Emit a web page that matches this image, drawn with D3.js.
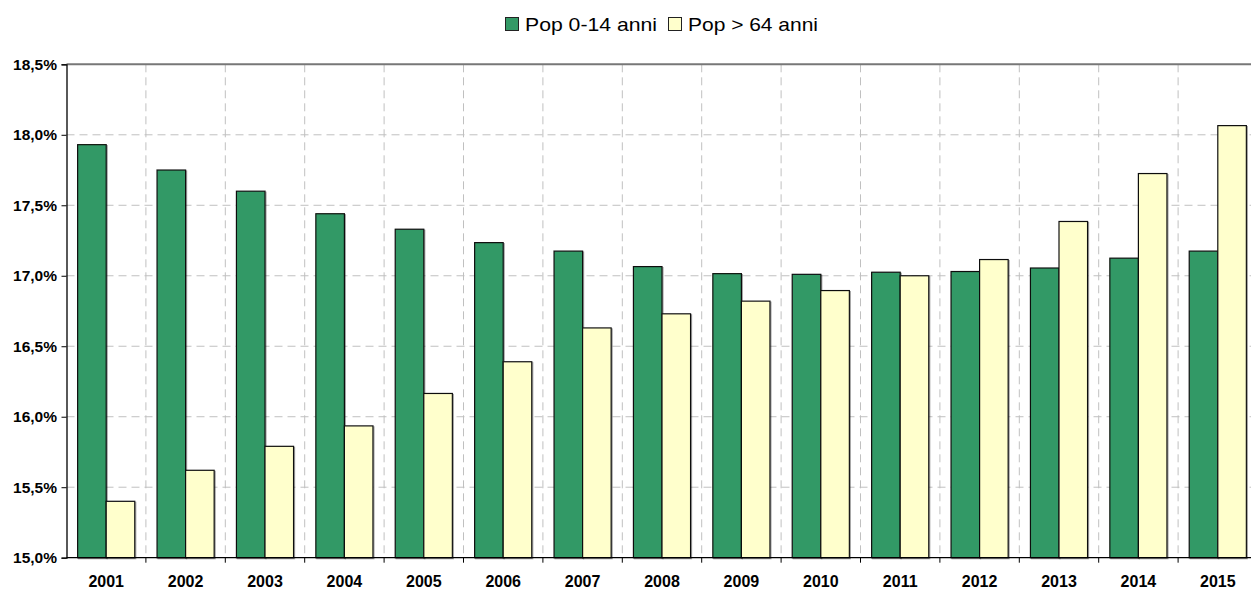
<!DOCTYPE html>
<html>
  <head>
    <meta charset="utf-8">
    <script src="https://d3js.org/d3.v7.min.js"></script>
    <style>
      body { margin: 0; background: #fff; }
      svg { display: block; font-family: Arial, "Liberation Sans", sans-serif; }
      .grid line { stroke: #c0c0c0; stroke-dasharray: 8,5; }
      .tick text { font-family: Arial, "Liberation Sans", sans-serif; font-weight: bold; font-size: 15.5px; fill: #000; }
    </style>
  </head>
<body>
<script>
  // dati
  var anni = ["2001","2002","2003","2004","2005","2006","2007","2008","2009","2010","2011","2012","2013","2014","2015"];
  var pop0_14 = [17.93,17.75,17.60,17.44,17.33,17.235,17.175,17.065,17.015,17.01,17.025,17.03,17.055,17.125,17.175];
  var pop64 = [15.40,15.62,15.79,15.935,16.165,16.39,16.63,16.73,16.82,16.895,17.0,17.115,17.385,17.725,18.065];
  var serie = ["Pop 0-14 anni", "Pop > 64 anni"];
  var colori = ["#339966", "#ffffcc"];
  var yTicks = [15.0,15.5,16.0,16.5,17.0,17.5,18.0,18.5];

  var width = 1251, height = 589;
  var margin = {left: 66.5, top: 64.3, right: -6.5, bottom: 31.3};
  var w = width - margin.left - margin.right,
      h = height - margin.top - margin.bottom;

  var svg = d3.select("body").append("svg")
      .attr("width", width)
      .attr("height", height);

  var defs = svg.append("defs");
  var f = defs.append("filter").attr("id", "ombra")
      .attr("x", "-20%").attr("y", "-20%").attr("width", "150%").attr("height", "150%");
  f.append("feDropShadow").attr("dx", 1).attr("dy", 1).attr("stdDeviation", 0.6)
      .attr("flood-color", "#000").attr("flood-opacity", 0.35);

  var g = svg.append("g").attr("transform", "translate(" + margin.left + "," + margin.top + ")");

  var x0 = d3.scaleBand().domain(anni).range([0, w]);
  var x1 = d3.scaleBand().domain(serie).range([0, x0.bandwidth()]).paddingOuter(0.39);
  var y = d3.scaleLinear().domain([15, 18.5]).range([h, 0]);

  var fmt = function(d) { return d3.format(".1f")(d).replace(".", ",") + "%"; };

  // griglia orizzontale
  g.append("g").attr("class", "grid")
    .selectAll("line").data(yTicks.slice(1, -1)).enter().append("line")
      .attr("x1", 0).attr("x2", w)
      .attr("y1", function(d) { return y(d); }).attr("y2", function(d) { return y(d); });

  // griglia verticale (bordi categorie)
  g.append("g").attr("class", "grid")
    .selectAll("line").data(anni.slice(1)).enter().append("line")
      .attr("x1", function(d) { return x0(d); }).attr("x2", function(d) { return x0(d); })
      .attr("y1", 0).attr("y2", h);

  // linea superiore
  g.append("line").attr("x1", 0).attr("x2", w).attr("y1", 0).attr("y2", 0)
    .attr("stroke", "#777").attr("stroke-width", 2);

  // barre
  var dati = anni.map(function(a, i) {
    return {anno: a, valori: [{s: serie[0], v: pop0_14[i]}, {s: serie[1], v: pop64[i]}]};
  });

  var gruppi = g.selectAll(".gruppo").data(dati).enter().append("g")
      .attr("class", "gruppo")
      .attr("transform", function(d) { return "translate(" + x0(d.anno) + ",0)"; });

  gruppi.selectAll("rect").data(function(d) { return d.valori; }).enter().append("rect")
      .attr("x", function(d) { return x1(d.s); })
      .attr("width", x1.bandwidth())
      .attr("y", function(d) { return y(d.v); })
      .attr("height", function(d) { return h - y(d.v); })
      .attr("fill", function(d, i) { return colori[i]; })
      .attr("stroke", "#111")
      .attr("stroke-width", 1.2)
      .attr("filter", "url(#ombra)");

  // asse y
  var yAxis = d3.axisLeft(y).tickValues(yTicks).tickFormat(fmt).tickSize(5).tickPadding(4.5);
  var ay = g.append("g").call(yAxis);
  ay.select(".domain").attr("stroke", "#000").attr("stroke-width", 1.3);
  ay.selectAll(".tick line").attr("stroke", "#000");

  // asse x
  var ax = g.append("g").attr("transform", "translate(0," + h + ")");
  ax.append("line").attr("x1", 0).attr("x2", w).attr("stroke", "#000").attr("stroke-width", 1.3);
  ax.selectAll(".tk").data(anni.slice(1)).enter().append("line")
      .attr("x1", function(d) { return x0(d); }).attr("x2", function(d) { return x0(d); })
      .attr("y1", 0).attr("y2", 5).attr("stroke", "#000");
  ax.selectAll("text").data(anni).enter().append("text")
      .attr("x", function(d) { return x0(d) + x0.bandwidth() / 2; })
      .attr("y", 29)
      .attr("text-anchor", "middle")
      .style("font-weight", "bold").style("font-size", "16px")
      .text(function(d) { return d; });

  // legenda
  var leg = svg.append("g").attr("transform", "translate(505,17)");
  var legX = [0, 163];
  var legW = [132, 130];
  serie.forEach(function(s, i) {
    leg.append("rect").attr("x", legX[i] + 0.5).attr("y", 0.5).attr("width", 13).attr("height", 13)
      .attr("fill", colori[i]).attr("stroke", "#222");
    leg.append("text").attr("x", legX[i] + 20).attr("y", 13.5)
      .attr("textLength", legW[i]).attr("lengthAdjust", "spacingAndGlyphs")
      .style("font-size", "18.5px").text(s);
  });
</script>
</body>
</html>
